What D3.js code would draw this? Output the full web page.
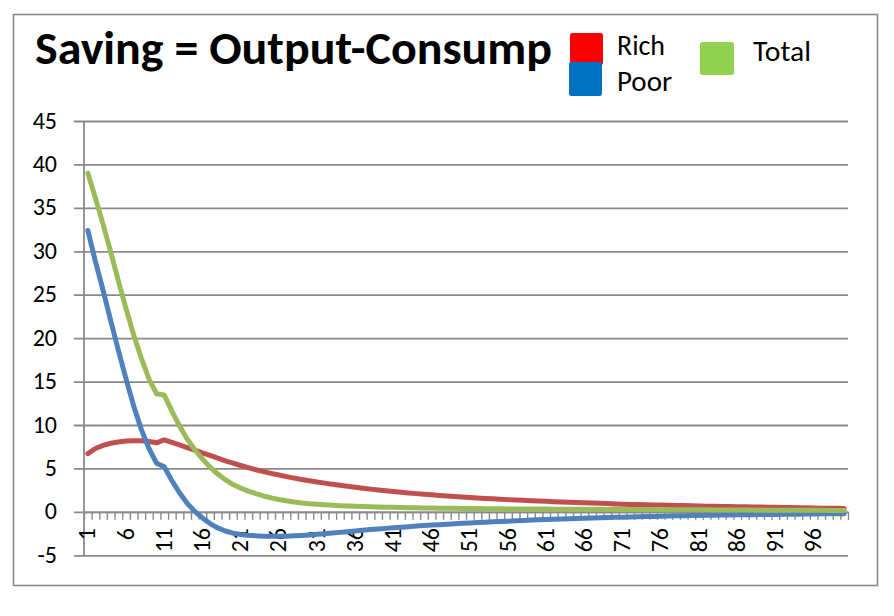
<!DOCTYPE html>
<html>
<head>
<meta charset="utf-8">
<script src="https://cdn.jsdelivr.net/npm/d3@7"></script>
<style>
  html, body { margin: 0; padding: 0; background: #fff; }
  svg { display: block; }
  text { font-family: Carlito, Calibri, "Open Sans", sans-serif; fill: #000; }
</style>
</head>
<body>
<svg id="chart" width="894" height="616"></svg>
<script>
// Periods 1..100 on the category axis
const categories = d3.range(1, 101);

const rich = [
  6.7, 7.3, 7.65, 7.9, 8.05, 8.15, 8.2, 8.2, 8.1, 7.95,
  8.3, 8.0, 7.7, 7.4, 7.1, 6.8, 6.5, 6.2, 5.88, 5.6,
  5.34, 5.09, 4.85, 4.63, 4.43, 4.24, 4.06, 3.89, 3.73, 3.58,
  3.44, 3.31, 3.18, 3.06, 2.94, 2.83, 2.72, 2.62, 2.52, 2.43,
  2.34, 2.26, 2.18, 2.1, 2.03, 1.96, 1.89, 1.83, 1.77, 1.71,
  1.65, 1.6, 1.55, 1.5, 1.45, 1.41, 1.37, 1.33, 1.29, 1.25,
  1.21, 1.17, 1.13, 1.1, 1.07, 1.04, 1.01, 0.98, 0.95, 0.92,
  0.89, 0.86, 0.84, 0.82, 0.8, 0.78, 0.76, 0.74, 0.72, 0.7,
  0.68, 0.66, 0.64, 0.63, 0.61, 0.6, 0.58, 0.57, 0.55, 0.54,
  0.52, 0.51, 0.49, 0.48, 0.46, 0.45, 0.43, 0.42, 0.41, 0.4
];

const poor = [
  32.4, 28.8, 25.5, 22.0, 18.6, 15.3, 12.2, 9.5, 7.3, 5.6,
  5.2, 3.6, 2.2, 1.0, 0.05, -0.7, -1.35, -1.85, -2.2, -2.45,
  -2.6, -2.7, -2.76, -2.8, -2.82, -2.82, -2.8, -2.76, -2.71, -2.65,
  -2.58, -2.51, -2.44, -2.36, -2.28, -2.2, -2.12, -2.04, -1.97, -1.9,
  -1.83, -1.76, -1.7, -1.64, -1.58, -1.52, -1.47, -1.42, -1.37, -1.32,
  -1.27, -1.23, -1.19, -1.15, -1.11, -1.07, -1.03, -0.99, -0.95, -0.92,
  -0.89, -0.86, -0.83, -0.8, -0.77, -0.74, -0.71, -0.68, -0.65, -0.63,
  -0.61, -0.58, -0.56, -0.54, -0.52, -0.5, -0.48, -0.46, -0.44, -0.43,
  -0.41, -0.4, -0.38, -0.37, -0.36, -0.34, -0.33, -0.32, -0.31, -0.3,
  -0.29, -0.28, -0.27, -0.26, -0.25, -0.24, -0.23, -0.22, -0.22, -0.21
];

const total = [
  39.0, 36.1, 33.1, 29.9, 26.6, 23.4, 20.4, 17.7, 15.3, 13.6,
  13.45, 11.6, 9.9, 8.4, 7.15, 6.1, 5.15, 4.35, 3.7, 3.15,
  2.74, 2.39, 2.09, 1.83, 1.61, 1.42, 1.27, 1.14, 1.03, 0.94,
  0.87, 0.81, 0.76, 0.71, 0.67, 0.64, 0.61, 0.58, 0.56, 0.54,
  0.52, 0.5, 0.48, 0.47, 0.45, 0.44, 0.43, 0.42, 0.41, 0.4,
  0.39, 0.38, 0.37, 0.36, 0.35, 0.34, 0.34, 0.33, 0.33, 0.32,
  0.32, 0.31, 0.31, 0.3, 0.3, 0.29, 0.29, 0.29, 0.28, 0.28,
  0.27, 0.27, 0.26, 0.26, 0.26, 0.25, 0.25, 0.24, 0.24, 0.24,
  0.23, 0.23, 0.22, 0.22, 0.22, 0.21, 0.21, 0.21, 0.2, 0.2,
  0.2, 0.19, 0.19, 0.19, 0.18, 0.18, 0.18, 0.17, 0.17, 0.17
];

const yTicks = [-5, 0, 5, 10, 15, 20, 25, 30, 35, 40, 45];
const xTickLabels = [1, 6, 11, 16, 21, 26, 31, 36, 41, 46, 51, 56, 61, 66, 71, 76, 81, 86, 91, 96];
const chartTitle = "Saving = Output-Consump";

// Line series, drawn in this order (Total on top)
const series = [
  { name: "Rich",  values: rich,  color: "#C0504D" },
  { name: "Poor",  values: poor,  color: "#4F81BD" },
  { name: "Total", values: total, color: "#9BBB59" }
];

const svg = d3.select("#chart");
const gridColor = "#8a8a8a";

// Outer chart frame
svg.append("rect")
  .attr("x", 13.5).attr("y", 14.5)
  .attr("width", 864).attr("height", 571)
  .attr("fill", "#fff")
  .attr("stroke", gridColor).attr("stroke-width", 1.6);

const plot = { left: 84, right: 848, top: 121, bottom: 555.3 };

const x = d3.scaleBand()
  .domain(categories)
  .range([plot.left, plot.right])
  .padding(0);

// Boundary scale for tick marks between categories
const xEdge = d3.scaleLinear()
  .domain([0, categories.length])
  .range([plot.left, plot.right]);

const y = d3.scaleLinear()
  .domain([-5, 45])
  .range([plot.bottom, plot.top]);

// Horizontal gridlines + left tick marks
const yAxis = svg.append("g")
  .attr("transform", `translate(${plot.left},0)`)
  .call(d3.axisLeft(y)
    .tickValues(yTicks)
    .tickSizeInner(-(plot.right - plot.left))
    .tickSizeOuter(0)
    .tickFormat(""));
yAxis.select(".domain").remove();
yAxis.selectAll(".tick line")
  .attr("x1", -10)
  .attr("stroke", gridColor)
  .attr("stroke-width", 1.8);

// Vertical axis line
svg.append("line")
  .attr("x1", plot.left).attr("x2", plot.left)
  .attr("y1", y(45)).attr("y2", y(-5))
  .attr("stroke", gridColor).attr("stroke-width", 1.8);

// Value labels on the vertical axis
svg.append("g").selectAll("text")
  .data(yTicks)
  .join("text")
  .attr("x", 57)
  .attr("y", d => y(d) + 7.5)
  .attr("text-anchor", "end")
  .attr("font-size", 24)
  .text(d => d);

// Horizontal axis at zero with tick marks between categories
const xAxis = svg.append("g")
  .attr("transform", `translate(0,${y(0)})`)
  .call(d3.axisBottom(xEdge)
    .tickValues(d3.range(0, categories.length + 1))
    .tickSizeInner(8)
    .tickSizeOuter(0)
    .tickFormat(""));
xAxis.select(".domain")
  .attr("stroke", gridColor).attr("stroke-width", 1.8);
xAxis.selectAll(".tick line")
  .attr("stroke", gridColor).attr("stroke-width", 1.4);

// Category labels, rotated
const half = x.bandwidth() / 2;
svg.append("g").selectAll("text")
  .data(xTickLabels)
  .join("text")
  .attr("transform", d => `translate(${x(d) + half + 7.5},528) rotate(-90)`)
  .attr("text-anchor", "end")
  .attr("font-size", 24)
  .text(d => d);

// Series lines
const line = d3.line()
  .x((d, i) => x(categories[i]) + half)
  .y(d => y(d));

svg.append("g").selectAll("path")
  .data(series)
  .join("path")
  .attr("d", s => line(s.values))
  .attr("fill", "none")
  .attr("stroke", s => s.color)
  .attr("stroke-width", 5)
  .attr("stroke-linejoin", "round")
  .attr("stroke-linecap", "round");

// Title
svg.append("text")
  .attr("x", 35).attr("y", 64)
  .attr("font-size", 46)
  .attr("font-weight", "bold")
  .attr("textLength", 517)
  .attr("lengthAdjust", "spacingAndGlyphs")
  .text(chartTitle);

// Legend
const legendItems = [
  { name: "Rich",  color: "#FF0000", box: [570, 33, 33, 32], tx: 617, ty: 55,   tw: 48 },
  { name: "Poor",  color: "#0070C0", box: [569, 62, 33, 34], tx: 617, ty: 90.5, tw: 55 },
  { name: "Total", color: "#92D050", box: [700, 42, 34, 33], tx: 753, ty: 61,   tw: 58 }
];
const legend = svg.append("g");
legend.selectAll("rect")
  .data(legendItems)
  .join("rect")
  .attr("x", d => d.box[0]).attr("y", d => d.box[1])
  .attr("width", d => d.box[2]).attr("height", d => d.box[3])
  .attr("rx", 2.5)
  .attr("fill", d => d.color);
legend.selectAll("text")
  .data(legendItems)
  .join("text")
  .attr("x", d => d.tx).attr("y", d => d.ty)
  .attr("font-size", 28)
  .attr("textLength", d => d.tw)
  .attr("lengthAdjust", "spacingAndGlyphs")
  .text(d => d.name);
</script>
</body>
</html>
